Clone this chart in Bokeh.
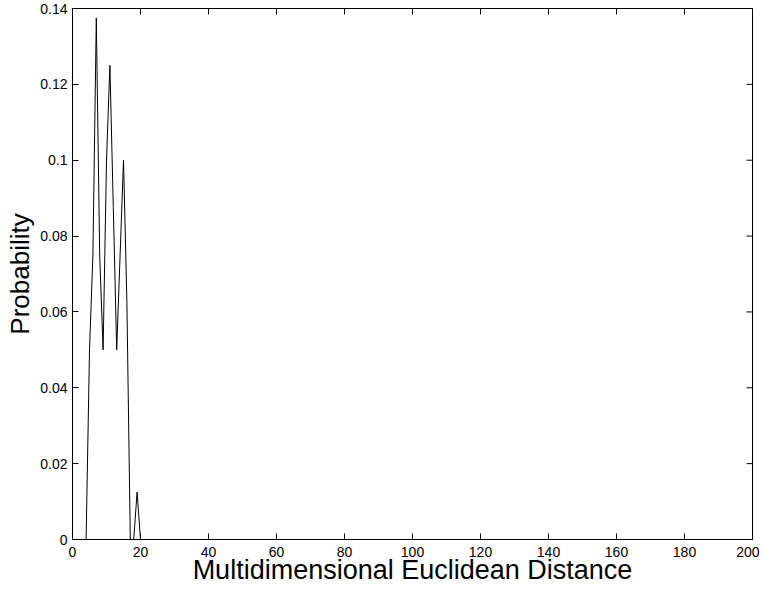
import math
from bokeh.plotting import figure
from bokeh.models import Range1d, FixedTicker, CustomJSTickFormatter
from bokeh.embed import file_html
from bokeh.resources import INLINE

# data
distance = [0, 4, 5, 6, 7, 8, 9, 10, 11, 12, 13, 14, 15, 16, 17, 18, 19, 20, 200]
probability = [0, 0, 0.05, 0.075, 0.1375, 0.075, 0.05, 0.1, 0.125, 0.0875, 0.05,
               0.075, 0.1, 0.0625, 0, 0, 0.0125, 0, 0]
x_ticks = [0, 20, 40, 60, 80, 100, 120, 140, 160, 180, 200]
y_ticks = [0, 0.02, 0.04, 0.06, 0.08, 0.1, 0.12, 0.14]
x_min, x_max = 0, 200
y_min, y_max = 0, 0.14

FONT = "Liberation Sans"

p = figure(width=759, height=587, x_range=Range1d(x_min, x_max), y_range=Range1d(y_min, y_max),
           output_backend="svg", toolbar_location=None,
           x_axis_label="Multidimensional Euclidean Distance", y_axis_label="Probability",
           min_border_left=72, min_border_right=7, min_border_top=8, min_border_bottom=10)
p.xgrid.visible = False
p.ygrid.visible = False
p.outline_line_color = "black"
p.outline_line_width = 1
p.background_fill_color = "white"
p.border_fill_color = "white"

p.line(distance, probability, line_color="black", line_width=1)

# inward ticks on the top and right edges (box on)
p.ray(x=x_ticks, y=[y_max] * len(x_ticks), length=6, length_units="screen",
      angle=-math.pi / 2, line_color="black", line_width=1)
p.ray(x=[x_max] * len(y_ticks), y=y_ticks, length=6, length_units="screen",
      angle=math.pi, line_color="black", line_width=1)

fmt = CustomJSTickFormatter(code="return String(Math.round(tick*100)/100);")

def style(ax, ticks, label_size):
    ax.ticker = FixedTicker(ticks=ticks)
    ax.major_tick_in = 6
    ax.major_tick_out = 0
    ax.minor_tick_line_color = None
    ax.axis_line_color = "black"
    ax.major_tick_line_color = "black"
    ax.formatter = fmt
    ax.major_label_text_font = FONT
    ax.major_label_text_font_size = "14px"
    ax.major_label_text_color = "black"
    ax.axis_label_text_font = FONT
    ax.axis_label_text_font_size = label_size
    ax.axis_label_text_font_style = "normal"
    ax.axis_label_text_color = "black"

xa = p.xaxis[0]
style(xa, x_ticks, "27px")
xa.major_label_standoff = 7
xa.axis_label_standoff = -5

ya = p.yaxis[0]
style(ya, y_ticks, "26px")
ya.major_label_standoff = 5
ya.axis_label_standoff = 2

open("out.html", "w").write(file_html(p, INLINE))
